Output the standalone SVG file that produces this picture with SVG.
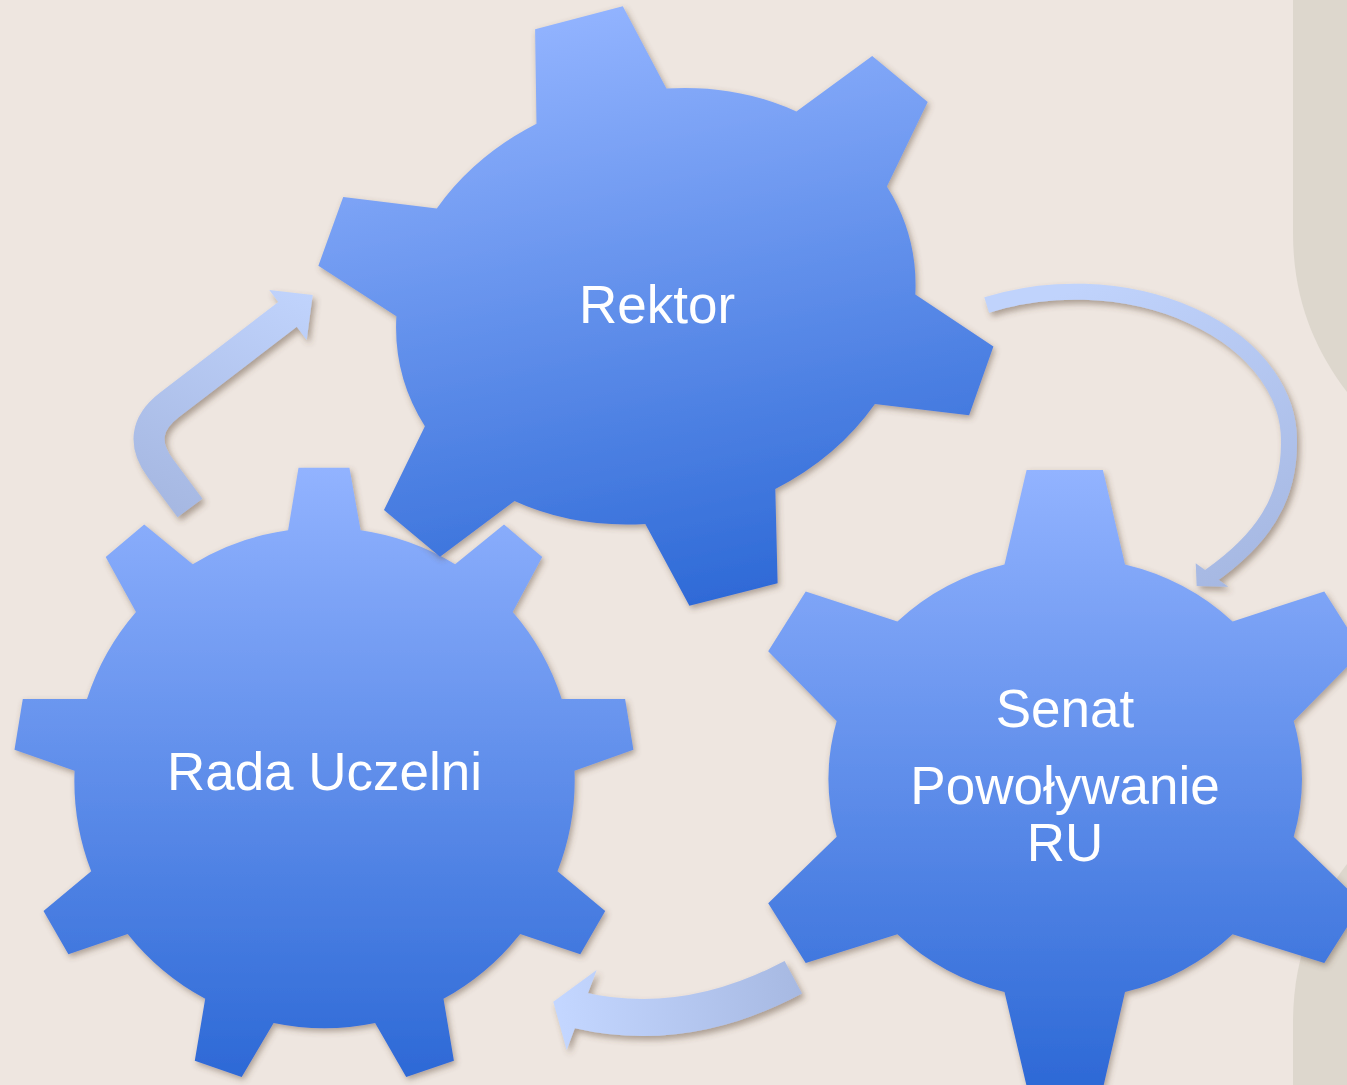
<svg xmlns="http://www.w3.org/2000/svg" width="1347" height="1085" viewBox="0 0 1347 1085">
<style>
.gear{filter:url(#shadow);}
.lbl{font-family:"Liberation Sans",Arial,sans-serif;font-size:53px;fill:#ffffff;text-anchor:middle;}
.arrow{filter:url(#ashadow);}
.shaft{fill:none;stroke-linecap:butt;stroke-linejoin:round;}
.panel{fill:#DDD7CD;}
</style>
<defs>
<filter id="shadow" x="-10%" y="-10%" width="120%" height="120%">
<feDropShadow dx="2" dy="3" stdDeviation="3" flood-color="#5a4530" flood-opacity="0.45"/>
</filter>
<filter id="ashadow" x="-20%" y="-20%" width="140%" height="140%">
<feDropShadow dx="3" dy="4" stdDeviation="3" flood-color="#5a4530" flood-opacity="0.45"/>
</filter>
<linearGradient id="gv" x1="0" y1="0" x2="0" y2="1">
<stop offset="0" stop-color="#92B3FF"/>
<stop offset="1" stop-color="#2D69D6"/>
</linearGradient>
<linearGradient id="gr" x1="0.38" y1="0" x2="0.62" y2="1">
<stop offset="0" stop-color="#93B4FF"/>
<stop offset="1" stop-color="#2D69D6"/>
</linearGradient>
<linearGradient id="a1" gradientUnits="userSpaceOnUse" x1="300" y1="290" x2="185" y2="515">
<stop offset="0" stop-color="#C0D3FC"/>
<stop offset="1" stop-color="#A6B8E2"/>
</linearGradient>
<linearGradient id="a2" gradientUnits="userSpaceOnUse" x1="1080" y1="285" x2="1220" y2="590">
<stop offset="0" stop-color="#C0D3FC"/>
<stop offset="1" stop-color="#A6B8E2"/>
</linearGradient>
<linearGradient id="a3" gradientUnits="userSpaceOnUse" x1="560" y1="1000" x2="800" y2="980">
<stop offset="0" stop-color="#C3D6FF"/>
<stop offset="1" stop-color="#A7B9E2"/>
</linearGradient>
</defs>

<rect x="0" y="0" width="1347" height="1085" fill="#EEE6E0"/>
<path class="panel" d="M1293,0 L1293,233 C1293,300 1315,350 1347,392 L1347,0 Z"/>
<path class="panel" d="M1293,1085 L1293,1023 C1293,956 1315,906 1347,864 L1347,1085 Z"/>

<g id="rada">
<path class="gear" fill="url(#gv)" d="M288.1,530.2 L298.5,467.8 L349.4,467.8 L360.6,530.2
A250,250 0 0 1 455.1,564.2 L504,524.5 L542.2,556.9 L512.7,612
A250,250 0 0 1 561.7,699.1 L625.1,699.1 L633.4,749.7 L574.5,770.8
A250,250 0 0 1 557.5,871.2 L605.2,910.9 L580.3,954.2 L520.2,934
A250,250 0 0 1 443.5,998.8 L453.9,1060.7 L406.2,1076.9 L375.1,1023.1
A250,250 0 0 1 273.6,1023.1 L241.7,1076.9 L194.8,1060.7 L205.2,998.8
A250,250 0 0 1 127.7,934 L68.4,954.2 L43.5,910.9 L91.2,871.2
A250,250 0 0 1 74.6,770.8 L14.5,749.7 L22.8,699.1 L87,699.1
A250,250 0 0 1 136,612 L105.7,556.9 L144.2,524.5 L192.7,564.2
A250,250 0 0 1 288.1,530.2 Z"/>
<text class="lbl" x="324.5" y="790">Rada Uczelni</text>
</g>

<g id="rektor">
<path class="gear" fill="url(#gr)" d="M536.5,123.8 L535.1,29.3 L622.8,6.3 L666.4,88.6
A260,218 -15 0 1 796.4,111.5 L872.2,56.1 L927.7,102 L886.9,186.6
A260,218 -15 0 1 915.3,294.6 L993.4,346.4 L969.1,415.2 L874.9,404.1
A260,218 -15 0 1 775.3,489.1 L777.6,583.2 L689.4,605.7 L645.3,523.9
A260,218 -15 0 1 514.5,501 L440,556.7 L384,510 L424.9,426.2
A260,218 -15 0 1 396.4,316.3 L318.4,265.7 L343.2,196.9 L436.8,208.4
A260,218 -15 0 1 536.5,123.8 Z"/>
<text class="lbl" x="657" y="323">Rektor</text>
</g>

<g id="senat">
<path class="gear" fill="url(#gv)" d="M1004.5,564.4 L1026.6,470 L1102.9,470 L1125,564.4
A236,222 0 0 1 1232.6,621.4 L1324.3,591.5 L1362.2,651.3 L1293.7,721.1
A236,222 0 0 1 1293.7,836.7 L1362.2,903.2 L1324.3,963 L1232.6,934.3
A236,222 0 0 1 1125,992.1 L1103.5,1086 L1026.6,1086 L1004.5,992.1
A236,222 0 0 1 897.4,934.3 L805.7,963 L768.2,903.2 L836.7,836.7
A236,222 0 0 1 836.7,721.1 L768.2,651.3 L805.7,591.5 L897.4,621.4
A236,222 0 0 1 1004.5,564.4 Z"/>
<text class="lbl" x="1065" y="727">Senat</text>
<text class="lbl" x="1065" y="804">Powoływanie</text>
<text class="lbl" x="1065" y="861">RU</text>
</g>

<g id="connectors">
<g id="arrow-rada-rektor" class="arrow">
<path class="shaft" stroke="url(#a1)" stroke-width="31" d="M190,508 L160.6,468.5 Q133.7,432.4 169.3,405 L292,311"/>
<polygon fill="url(#a1)" points="269.3,290 312.7,295 306.7,340"/>
</g>
<g id="arrow-rektor-senat" class="arrow">
<path class="shaft" stroke="url(#a2)" stroke-width="16" d="M986.7,305 A214,149 0 0 1 1289,443 C1289,500 1262,540 1209,577"/>
<polygon fill="url(#a2)" points="1195.7,563.3 1196.7,586 1228.3,586.7"/>
</g>
<g id="arrow-senat-rada" class="arrow">
<path class="shaft" stroke="url(#a3)" stroke-width="37" d="M793.3,977.2 Q685,1035 578,1010"/>
<polygon fill="url(#a3)" points="596.7,970 553.3,1001.7 566.7,1050"/>
</g>
</g>
</svg>
